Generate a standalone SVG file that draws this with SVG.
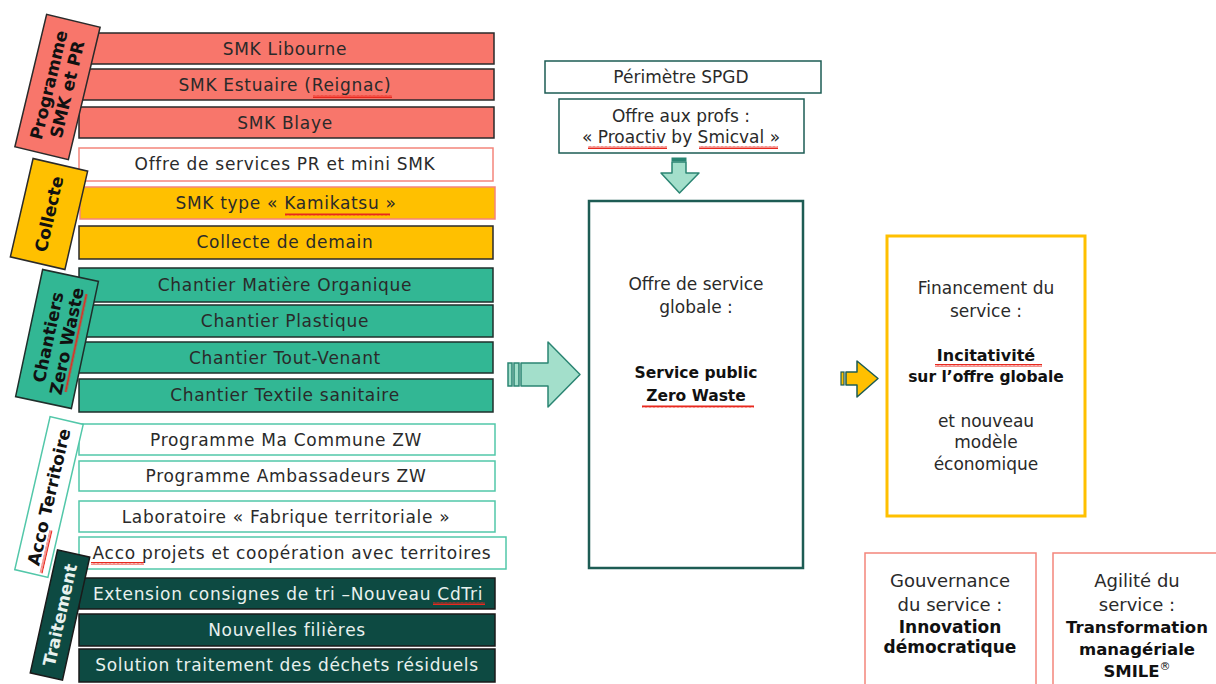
<svg xmlns="http://www.w3.org/2000/svg" width="1216" height="684" viewBox="0 0 1216 684">
<defs>
<pattern id="sq" width="4" height="3" patternUnits="userSpaceOnUse">
<path d="M0,2.6 L1,0.4 L2,2.6 L3,0.4 L4,2.6" fill="none" stroke="#E8281E" stroke-width="1"/>
</pattern>
<style>
.t{font-family:"DejaVu Sans","Liberation Sans",sans-serif;font-size:17px;fill:#2a2a2a;text-anchor:middle}
.r{letter-spacing:0.7px}
.b{font-weight:bold;fill:#111}
.w{fill:#E8F1EE}
.sal{fill:#F8766B;stroke:#2a2a2a;stroke-width:1.5}
.salw{fill:#fff;stroke:#F4857B;stroke-width:1.5}
.yelS{fill:#FFC000;stroke:#F4857B;stroke-width:1.5}
.yel{fill:#FFC000;stroke:#2a2a2a;stroke-width:1.5}
.teal{fill:#32B794;stroke:#1f2f2b;stroke-width:1.5}
.tealw{fill:#fff;stroke:#52C7A9;stroke-width:1.5}
.dk{fill:#0D4A42;stroke:#1a1a1a;stroke-width:1.5}
.box{fill:#fff;stroke:#1D5C54;stroke-width:1.5}
.sqz{fill:url(#sq)}
</style>
</defs>
<rect width="1216" height="684" fill="#fff"/>

<g id="rows">
<g id="smk-libourne"><rect class="sal" x="88" y="33" width="406" height="31"/><text class="t r" x="285" y="55">SMK Libourne</text></g>
<g id="smk-estuaire"><rect class="sal" x="80" y="69" width="414" height="31"/><text class="t r" x="285" y="91">SMK Estuaire (Reignac)</text><rect class="sqz" x="313" y="95" width="79" height="3"/></g>
<g id="smk-blaye"><rect class="sal" x="79" y="107" width="415" height="31"/><text class="t r" x="285" y="129">SMK Blaye</text></g>
<g id="offre-pr"><rect class="salw" x="79" y="148" width="414" height="33"/><text class="t r" x="285" y="170">Offre de services PR et mini SMK</text></g>
<g id="kamikatsu"><rect class="yelS" x="80" y="187" width="415" height="32"/><text class="t r" x="286" y="209">SMK type « Kamikatsu »</text><rect class="sqz" x="285" y="213" width="105" height="3"/></g>
<g id="collecte-demain"><rect class="yel" x="79" y="226" width="414" height="33"/><text class="t r" x="285" y="248">Collecte de demain</text></g>
<g id="chantier-mo"><rect class="teal" x="79" y="268" width="414" height="34"/><text class="t r" x="285" y="291">Chantier Matière Organique</text></g>
<g id="chantier-plastique"><rect class="teal" x="79" y="305" width="414" height="32"/><text class="t r" x="285" y="327">Chantier Plastique</text></g>
<g id="chantier-tv"><rect class="teal" x="79" y="342" width="414" height="31"/><text class="t r" x="285" y="364">Chantier Tout-Venant</text></g>
<g id="chantier-textile"><rect class="teal" x="79" y="379" width="414" height="33"/><text class="t r" x="285" y="401">Chantier Textile sanitaire</text></g>
<g id="ma-commune"><rect class="tealw" x="79" y="424" width="416" height="31"/><text class="t r" x="286" y="446">Programme Ma Commune ZW</text></g>
<g id="ambassadeurs"><rect class="tealw" x="79" y="461" width="416" height="30"/><text class="t r" x="286" y="482">Programme Ambassadeurs ZW</text></g>
<g id="laboratoire"><rect class="tealw" x="79" y="501" width="416" height="31"/><text class="t r" x="286" y="523">Laboratoire « Fabrique territoriale »</text></g>
<g id="acco-projets"><rect class="tealw" x="79" y="537" width="427" height="32"/><text class="t r" x="292" y="559">Acco projets et coopération avec territoires</text><rect class="sqz" x="91" y="562" width="53" height="3"/></g>
<g id="extension"><rect class="dk" x="79" y="578" width="416" height="31"/><text class="t r w" x="288" y="600">Extension consignes de tri –Nouveau CdTri</text><rect class="sqz" x="433" y="602" width="52" height="3"/></g>
<g id="filieres"><rect class="dk" x="79" y="614" width="416" height="32"/><text class="t r w" x="287" y="636">Nouvelles filières</text></g>
<g id="residuels"><rect class="dk" x="79" y="649" width="416" height="33"/><text class="t r w" x="287" y="671">Solution traitement des déchets résiduels</text></g>
</g>

<g id="labels">
<g id="lbl-programme" transform="translate(57.5,87) rotate(-76.5)"><rect class="sal" x="-68" y="-27.5" width="136" height="55"/><text class="t b" x="0" y="-3">Programme</text><text class="t b" x="0" y="16">SMK et PR</text></g>
<g id="lbl-collecte" transform="translate(49,214) rotate(-77)"><rect class="yel" x="-50.5" y="-28" width="101" height="56"/><text class="t b" x="0" y="6">Collecte</text></g>
<g id="lbl-chantiers" transform="translate(57,339) rotate(-78)"><rect class="teal" x="-65" y="-28.5" width="130" height="57"/><text class="t b" x="0" y="-3">Chantiers</text><text class="t b" x="0" y="16">Zero Waste</text><rect class="sqz" x="-50" y="18" width="100" height="3"/></g>
<g id="lbl-acco" transform="translate(49,497) rotate(-77)"><rect class="tealw" x="-78.5" y="-17" width="157" height="34"/><text class="t b" x="0" y="6">Acco Territoire</text><rect class="sqz" x="-76" y="8" width="44" height="3"/></g>
<g id="lbl-traitement" transform="translate(60,615) rotate(-77.5)"><rect class="dk" x="-63" y="-16.5" width="126" height="33"/><text class="t b w" x="0" y="6">Traitement</text></g>
</g>

<g id="perimetre"><rect class="box" x="545" y="61" width="276" height="32"/><text class="t" x="681" y="83">Périmètre SPGD</text></g>
<g id="offre-profs"><rect class="box" x="559" y="99" width="245" height="54"/><text class="t" x="681" y="122">Offre aux profs :</text><text class="t" x="681" y="143">« Proactiv by Smicval »</text><rect class="sqz" x="588" y="146" width="79" height="3"/><rect class="sqz" x="699" y="146" width="79" height="3"/></g>

<g id="offre-globale"><rect fill="#fff" stroke="#1D5C54" stroke-width="2.5" x="589" y="201" width="214" height="367"/>
<text class="t" x="696" y="290">Offre de service</text><text class="t" x="696" y="313">globale :</text>
<text class="t b" x="696" y="378" style="font-size:15.5px">Service public</text><text class="t b" x="696" y="401" style="font-size:15.5px">Zero Waste</text><rect class="sqz" x="642" y="405" width="112" height="3"/></g>

<g id="financement"><rect fill="#fff" stroke="#FFC000" stroke-width="3" x="887" y="236" width="198" height="280"/>
<text class="t" x="986" y="294">Financement du</text><text class="t" x="986" y="317">service :</text>
<text class="t b" x="986" y="361" style="font-size:16px">Incitativité</text><text class="t b" x="986" y="382" style="font-size:15.5px">sur l’offre globale</text><rect class="sqz" x="935" y="364" width="107" height="3"/>
<text class="t" x="986" y="427">et nouveau</text><text class="t" x="986" y="448">modèle</text><text class="t" x="986" y="470">économique</text></g>

<g id="gouvernance"><rect fill="#fff" stroke="#F4857B" stroke-width="1.5" x="865" y="553" width="171" height="140"/>
<text class="t" x="950" y="587" style="font-size:18px">Gouvernance</text><text class="t" x="950" y="611" style="font-size:18px">du service :</text>
<text class="t b" x="950" y="633">Innovation</text><text class="t b" x="950" y="653">démocratique</text></g>

<g id="agilite"><rect fill="#fff" stroke="#F4857B" stroke-width="1.5" x="1053" y="553" width="180" height="140"/>
<text class="t" x="1137" y="587" style="font-size:18px">Agilité du</text><text class="t" x="1137" y="611" style="font-size:18px">service :</text>
<text class="t b" x="1137" y="633" style="font-size:16.5px">Transformation</text><text class="t b" x="1137" y="655" style="font-size:16.5px">managériale</text>
<text class="t b" x="1137" y="677" style="font-size:16.5px">SMILE<tspan style="font-size:11px;font-weight:normal" dy="-7">®</tspan></text></g>

<g id="connectors">
<g id="arrow-down">
<rect x="672" y="158" width="14" height="3" fill="#2B8573" stroke="#2B8573" stroke-width="1"/>
<path d="M672,162 L686,162 L686,173 L699,173 L679.5,193 L661,173 L672,173 Z" fill="#A3DFCB" stroke="#2B8573" stroke-width="1.5" stroke-linejoin="round"/>
</g>
<g id="arrow-right">
<rect x="508" y="363" width="4" height="23" fill="#A3DFCB" stroke="#2B8573" stroke-width="1.5"/>
<rect x="514" y="363" width="5" height="23" fill="#A3DFCB" stroke="#2B8573" stroke-width="1.5"/>
<path d="M521,363 L548,363 L548,342 L580,374.5 L548,407 L548,386 L521,386 Z" fill="#A3DFCB" stroke="#2B8573" stroke-width="1.5" stroke-linejoin="round"/>
</g>
<g id="arrow-yellow">
<rect x="841" y="372" width="3" height="13" fill="#FFC000" stroke="#1D5C54" stroke-width="1.2"/>
<path d="M846,372 L857,372 L857,361 L878,378.5 L857,397 L857,385 L846,385 Z" fill="#FFC000" stroke="#1D5C54" stroke-width="1.5" stroke-linejoin="round"/>
</g>
</g>
</svg>
